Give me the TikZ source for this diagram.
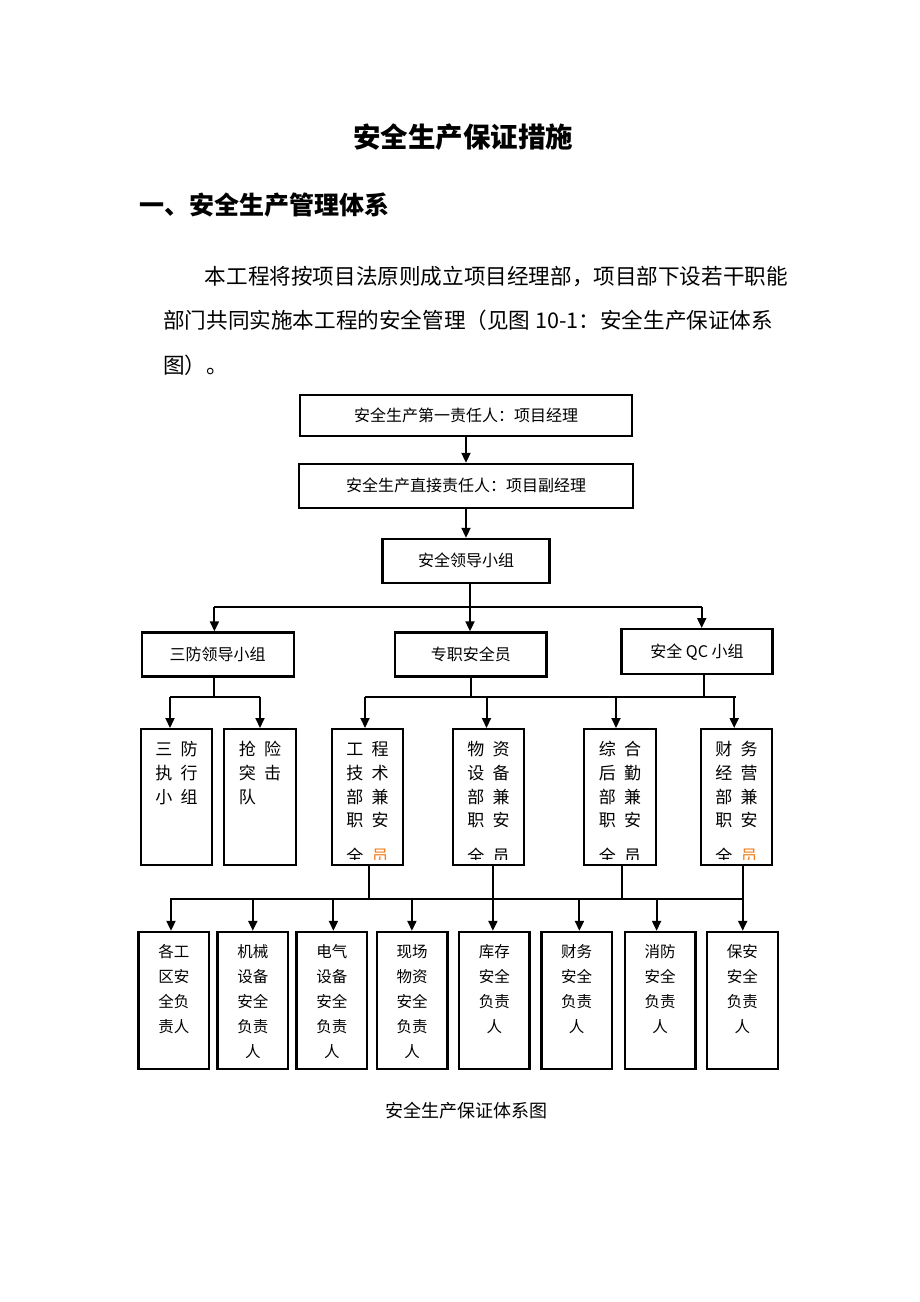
\documentclass[tikz,border=0pt]{standalone}
\usepackage{fontspec}
\setmainfont{Noto Sans CJK SC}
\usetikzlibrary{arrows.meta}
\definecolor{yorange}{RGB}{240,128,32}
\tikzset{
  box/.style={draw, line width=2.4pt, inner sep=0pt, font=\fontsize{16}{19}\selectfont, text height=13.4pt, text depth=1.8pt},
  conn/.style={line width=2pt},
  arr/.style={conn, -{Triangle[length=10pt,width=9pt]}},
  vt/.style={inner sep=0pt, font=\fontsize{17}{20}\selectfont, text height=14.3pt, text depth=1.9pt},
  bt/.style={inner sep=0pt, font=\fontsize{15.5}{18}\selectfont, text height=13pt, text depth=1.7pt},
}
\newcommand{\lowbox}[3]{%
  \node[box, minimum width=70.5pt, minimum height=137pt] (#1) at (#2,1000.5) {};
  \foreach \r [count=\k] in {#3} \node[bt] (#1-\k) at (#2,952+25*\k-25) {\r};
}
\newcommand{\midbox}[7]{%
  \node[box, minimum width=71.5pt, minimum height=136pt] (#1) at (#2,797.2) {};
  \begin{scope}
    \clip ([xshift=2pt]#1.north west) rectangle ([xshift=-2pt,yshift=7pt]#1.south east);
    \node[vt] (#1-1) at (#2,749.3) {#3};
    \node[vt] (#1-2) at (#2,773.3) {#4};
    \node[vt] (#1-3) at (#2,797.3) {#5};
    \node[vt] (#1-4) at (#2,820.5) {#6};
    \node[vt] (#1-5) at (#2,856.5) {#7};
  \end{scope}
}
\newcommand{\gp}{\hspace{8.3pt}}
\begin{document}
\begin{tikzpicture}[x=1pt,y=-1pt]
\useasboundingbox (0,0) rectangle (920,1302);
\fill[white] (0,0) rectangle (920,1302);

% texts
\node[font=\fontsize{27.5}{30}\selectfont\bfseries] (title) at (463,136.7) {安全生产保证措施};
\node[anchor=west, inner sep=0pt, font=\fontsize{25}{28}\selectfont\bfseries] (head) at (138.8,205) {一、安全生产管理体系};
\node[anchor=west, inner sep=0pt, font=\fontsize{21.6}{24}\selectfont] (p1) at (204.6,276.7) {本工程将按项目法原则成立项目经理部，项目部下设若干职能};
\node[anchor=west, inner sep=0pt, font=\fontsize{21.6}{24}\selectfont] (p2) at (163,320) {部门共同实施本工程的安全管理（见图 10-1：安全生产保证体系};
\node[anchor=west, inner sep=0pt, font=\fontsize{21.6}{24}\selectfont] (p3) at (163,365) {图）。};

% upper boxes
\node[box, minimum width=332pt, minimum height=41pt] (b1) at (466,415.5) {安全生产第一责任人：项目经理};
\node[box, minimum width=334pt, minimum height=44pt] (b2) at (466,486) {安全生产直接责任人：项目副经理};
\node[box, minimum width=167pt, minimum height=44pt] (b3) at (466,561) {安全领导小组};
\node[box, minimum width=152pt, minimum height=44pt] (s1) at (217.7,654.5) {三防领导小组};
\node[box, minimum width=151.5pt, minimum height=44pt] (s2) at (470.8,654.5) {专职安全员};
\node[box, minimum width=151pt, minimum height=45pt] (s3) at (697,651.7) {安全 QC 小组};

% middle boxes
\midbox{m1}{176.5}{三\gp 防}{执\gp 行}{小\gp 组}{}{}
\midbox{m2}{260}{抢\gp 险}{突\gp 击}{队\gp\phantom{险}}{}{}
\midbox{m3}{367.5}{工\gp 程}{技\gp 术}{部\gp 兼}{职\gp 安}{全\gp{\color{yorange}员}}
\midbox{m4}{488.5}{物\gp 资}{设\gp 备}{部\gp 兼}{职\gp 安}{全\gp 员}
\midbox{m5}{620}{综\gp 合}{后\gp 勤}{部\gp 兼}{职\gp 安}{全\gp 员}
\midbox{m6}{736.5}{财\gp 务}{经\gp 营}{部\gp 兼}{职\gp 安}{全\gp{\color{yorange}员}}

% lower boxes
\lowbox{l1}{173.85}{各工,区安,全负,责人}
\lowbox{l2}{252.75}{机械,设备,安全,负责,人}
\lowbox{l3}{331.9}{电气,设备,安全,负责,人}
\lowbox{l4}{412.05}{现场,物资,安全,负责,人}
\lowbox{l5}{494.35}{库存,安全,负责,人}
\lowbox{l6}{576.65}{财务,安全,负责,人}
\lowbox{l7}{660.2}{消防,安全,负责,人}
\lowbox{l8}{742.45}{保安,安全,负责,人}

\node[font=\fontsize{18}{20}\selectfont] (cap) at (466.5,1110.7) {安全生产保证体系图};

% connectors top
\draw[arr] (b1.south) -- (b1.south |- b2.north);
\draw[arr] (b2.south) -- (b2.south |- b3.north);
\coordinate (ja) at (214.4,606.7);
\coordinate (jb) at (470,606.7);
\coordinate (jc) at (701.7,606.7);
\draw[conn] (b3.south -| jb) -- (jb);
\draw[conn] (ja) -- (jc);
\draw[arr] (ja) -- (ja |- s1.north);
\draw[arr] (jb) -- (jb |- s2.north);
\draw[arr] (jc) -- (jc |- s3.north);

% connectors to middle
\coordinate (ka) at (170,696.7);
\coordinate (kb) at (260,696.7);
\coordinate (k0) at (214.4,696.7);
\draw[conn] (s1.south -| k0) -- (k0);
\draw[conn] (ka) -- (kb);
\draw[arr] (ka) -- (ka |- m1.north);
\draw[arr] (kb) -- (kb |- m2.north);
\coordinate (kc) at (365,696.7);
\coordinate (kd) at (486.5,696.7);
\coordinate (ke) at (616,696.7);
\coordinate (kf) at (734.2,696.7);
\coordinate (kg) at (470.9,696.7);
\coordinate (kh) at (703.8,696.7);
\draw[conn] (s2.south -| kg) -- (kg);
\draw[conn] (s3.south -| kh) -- (kh);
\draw[conn] (kc) -- ([xshift=1.7pt]kf);
\draw[arr] (kc) -- (kc |- m3.north);
\draw[arr] (kd) -- (kd |- m4.north);
\draw[arr] (ke) -- (ke |- m5.north);
\draw[arr] (kf) -- (kf |- m6.north);

% connectors to lower
\coordinate (ra) at (369,899.3);
\coordinate (rb) at (493,899.3);
\coordinate (rc) at (622.4,899.3);
\coordinate (rd) at (742.7,899.3);
\draw[conn] (m3.south -| ra) -- (ra);
\draw[conn] (m4.south -| rb) -- (rb);
\draw[conn] (m5.south -| rc) -- (rc);
\draw[conn] (m6.south -| rd) -- (rd);
\coordinate (q1) at (171,899.3);
\coordinate (q2) at (252.8,899.3);
\coordinate (q3) at (333.4,899.3);
\coordinate (q4) at (411.9,899.3);
\coordinate (q5) at (492.9,899.3);
\coordinate (q6) at (579.4,899.3);
\coordinate (q7) at (656.6,899.3);
\coordinate (q8) at (742.7,899.3);
\draw[conn] ([xshift=-1pt]q1) -- ([xshift=1pt]q8);
\draw[arr] (q1) -- (q1 |- l1.north);
\draw[arr] (q2) -- (q2 |- l2.north);
\draw[arr] (q3) -- (q3 |- l3.north);
\draw[arr] (q4) -- (q4 |- l4.north);
\draw[arr] (q5) -- (q5 |- l5.north);
\draw[arr] (q6) -- (q6 |- l6.north);
\draw[arr] (q7) -- (q7 |- l7.north);
\draw[arr] (q8) -- (q8 |- l8.north);
\end{tikzpicture}
\end{document}
